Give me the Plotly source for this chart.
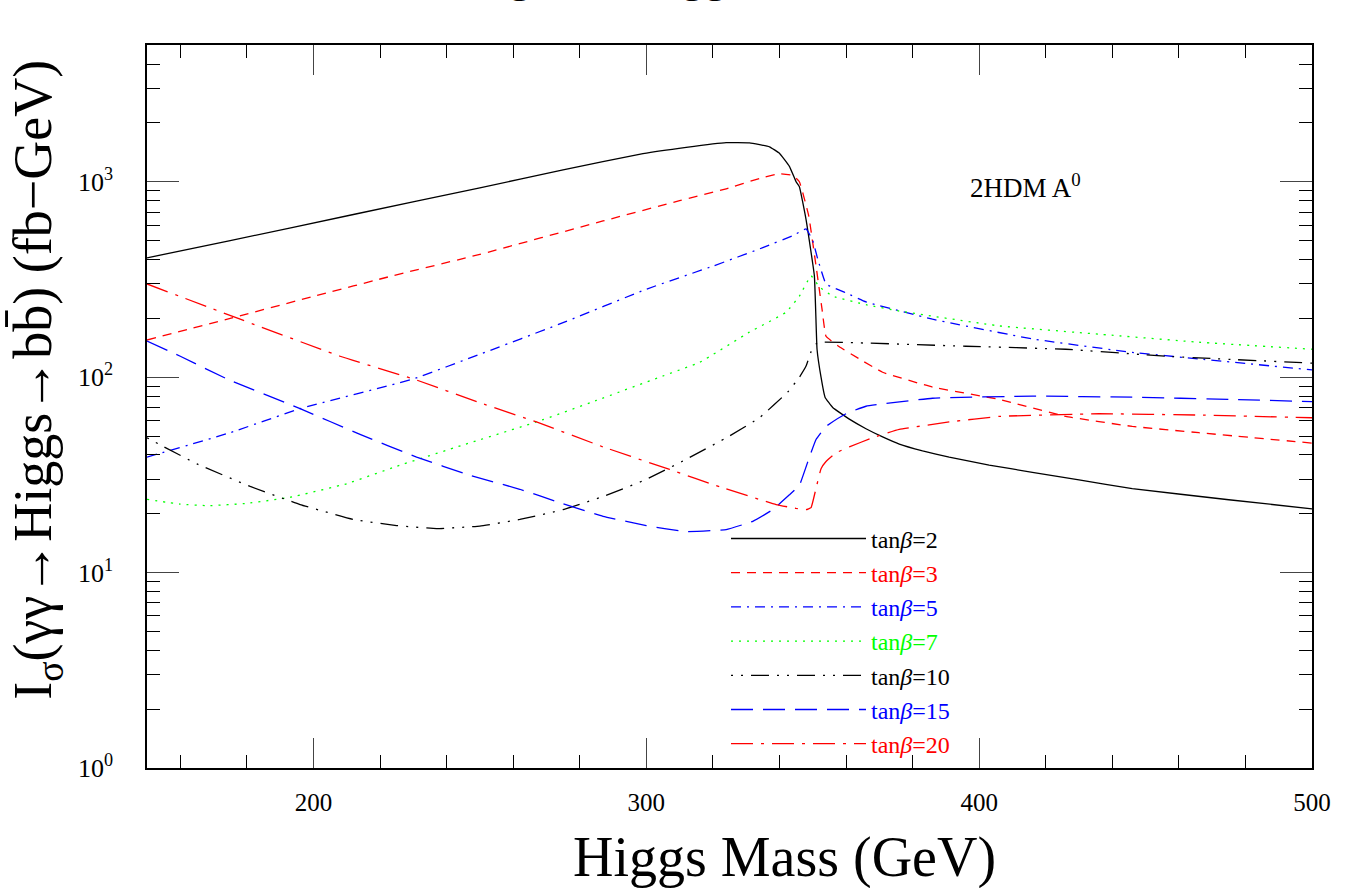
import plotly.graph_objects as go

# Higgs mass (GeV) and integrated cross sections (fb-GeV)
m_tb2 = [150, 175, 212, 250, 275, 299, 312, 324, 331, 337, 340, 343, 345, 346, 348, 350.5, 351.3, 352.5, 353.7, 356, 361, 366, 371, 376, 383, 391, 403, 416, 430, 446, 475, 500]
v_tb2 = [408, 500, 680, 931, 1150, 1393, 1500, 1585, 1580, 1510, 1400, 1200, 1000, 943, 640, 330, 139, 100, 79, 70, 61, 54.5, 49.5, 45.5, 42, 39, 35.5, 32.6, 29.8, 26.9, 23.6, 21.2]

m_tb3 = [150, 175, 200, 224, 250, 287, 310, 324, 334, 340, 344, 346, 348.8, 351, 352.8, 354, 358, 364, 371, 386, 406, 426, 446, 466, 500]
v_tb3 = [155, 200, 259, 331, 425, 630, 800, 921, 1040, 1100, 1080, 1000, 670, 371, 223, 162, 143, 124, 106, 89, 77, 63, 56, 52, 46]

m_tb5 = [150, 175, 196, 230, 250, 275, 300, 320, 335, 344, 348, 350, 351.5, 354, 360, 366, 386, 416, 446, 466, 500]
v_tb5 = [39, 52, 69, 98, 131, 190, 282, 370, 460, 530, 574, 500, 403, 300, 270, 243, 198, 157, 134, 124, 109]

m_tb7 = [150, 160, 168.5, 180, 193, 210, 225, 245, 267, 285, 304, 316, 331, 342, 346, 349.5, 352, 356, 366, 376, 406, 436, 466, 500]
v_tb7 = [23.7, 22.4, 22, 22.6, 24.3, 28.5, 35, 45, 59, 76, 100, 119, 170, 215, 260, 330, 290, 260, 235, 218, 183, 166, 151, 139]

m_tb10 = [150, 154, 165, 181, 196, 212, 225, 237, 250, 262, 275, 287, 300, 312, 325, 334, 342.5, 346, 348, 349.5, 351, 352, 396, 426, 456, 500]
v_tb10 = [49, 45, 36, 27.6, 22.3, 18.7, 17.4, 16.8, 17.3, 18.7, 21, 24.5, 30, 38, 50, 62, 84, 100, 114, 135, 148, 151, 144, 139, 128, 118]

m_tb15 = [150, 160, 174, 196, 214, 231, 247, 262, 275, 287, 300, 312, 324, 332, 338, 343, 346, 349, 351, 354, 360, 366, 386, 416, 446, 475, 500]
v_tb15 = [153, 128, 98, 69, 51, 39, 31.5, 26.7, 22.5, 19.4, 17.4, 16.2, 16.6, 18.3, 21, 25, 28, 39, 48, 56, 65, 71, 78, 80, 79, 77, 75]

m_tb20 = [150, 178, 208, 230, 250, 267, 287, 307, 322, 339, 345, 348, 349.5, 351, 352.5, 354, 357, 361, 368, 376, 391, 406, 436, 466, 500]
v_tb20 = [300, 198, 128, 98, 74, 59, 44, 33.7, 27.5, 22.3, 21.3, 21, 21.5, 27, 34, 37, 41, 44, 49, 54, 59, 63, 65, 64, 62]

series = [
    ("2", m_tb2, v_tb2, "black", "solid"),
    ("3", m_tb3, v_tb3, "red", "9px,7px"),
    ("5", m_tb5, v_tb5, "blue", "10px,6px,2px,6px"),
    ("7", m_tb7, v_tb7, "#00ff00", "2px,6px"),
    ("10", m_tb10, v_tb10, "black", "2px,8px,2px,8px,18px,8px"),
    ("15", m_tb15, v_tb15, "blue", "22px,10px"),
    ("20", m_tb20, v_tb20, "red", "22px,8px,3px,8px"),
]

y_tickvals = [1, 10, 100, 1000]
y_ticktext = ["10<sup>0</sup>", "10<sup>1</sup>", "10<sup>2</sup>", "10<sup>3</sup>"]
y_minor = [k * 10 ** d for d in range(0, 4) for k in range(2, 10)]
x_tickvals = [200, 300, 400, 500]

FONT = "Liberation Serif"

fig = go.Figure()
for tb, xs, ys, col, dash in series:
    fig.add_trace(go.Scatter(
        x=xs, y=ys, mode="lines", line=dict(color=col, width=1.3, dash=dash, shape="spline", smoothing=0.3),
        name=f"<span style='color:{col}'>tan<i>β</i>={tb}</span>",
    ))

fig.update_layout(
    width=1353, height=888,
    margin=dict(l=147, r=41, t=45, b=120),
    paper_bgcolor="white", plot_bgcolor="white",
    font=dict(family=FONT, color="black"),
    showlegend=True,
    legend=dict(x=0.497, y=0.348, xanchor="left", yanchor="top", bgcolor="rgba(0,0,0,0)",
                font=dict(size=24, family=FONT), itemwidth=135, tracegroupgap=0),
    xaxis=dict(range=[150, 500], tickvals=x_tickvals, ticks="inside", ticklen=30, tickwidth=1,
               showgrid=False, zeroline=False, showline=True, linecolor="black", linewidth=1.5, mirror="ticks",
               tickfont=dict(size=25, family=FONT), ticklabelstandoff=11,
               minor=dict(dtick=20, tick0=0, ticks="inside", ticklen=13, tickcolor="black", showgrid=False)),
    yaxis=dict(type="log", range=[0, 3.7], tickvals=y_tickvals, ticktext=y_ticktext, ticks="inside",
               ticklen=32, tickwidth=1, showgrid=False, zeroline=False, showline=True, linecolor="black",
               linewidth=1.5, mirror="ticks", tickfont=dict(size=26, family=FONT), ticklabelstandoff=27,
               minor=dict(tickvals=y_minor, ticks="inside", ticklen=13, tickcolor="black", showgrid=False)),
    annotations=[
        dict(text="2HDM A<sup>0</sup>", xref="paper", yref="paper", x=0.705, y=0.805, xanchor="left",
             yanchor="middle", showarrow=False, font=dict(size=27, family=FONT)),
        dict(text="Integrated Higgs Cross Section", xref="paper", yref="paper", x=0.495, y=1,
             xanchor="center", yanchor="bottom", yshift=42, showarrow=False, font=dict(size=46, family=FONT)),
        dict(text="Higgs Mass (GeV)", xref="paper", yref="paper", x=0.547, y=0, yshift=-89,
             xanchor="center", yanchor="middle", showarrow=False, font=dict(size=56, family=FONT)),
        dict(text="I<sub>σ</sub>(γγ→Higgs→bb̄) (fb−GeV)", xref="paper", yref="paper", x=0, xshift=-110,
             y=0.537, xanchor="center", yanchor="middle", textangle=-90, showarrow=False,
             font=dict(size=54, family=FONT)),
    ],
)

fig.write_html("out.html")
